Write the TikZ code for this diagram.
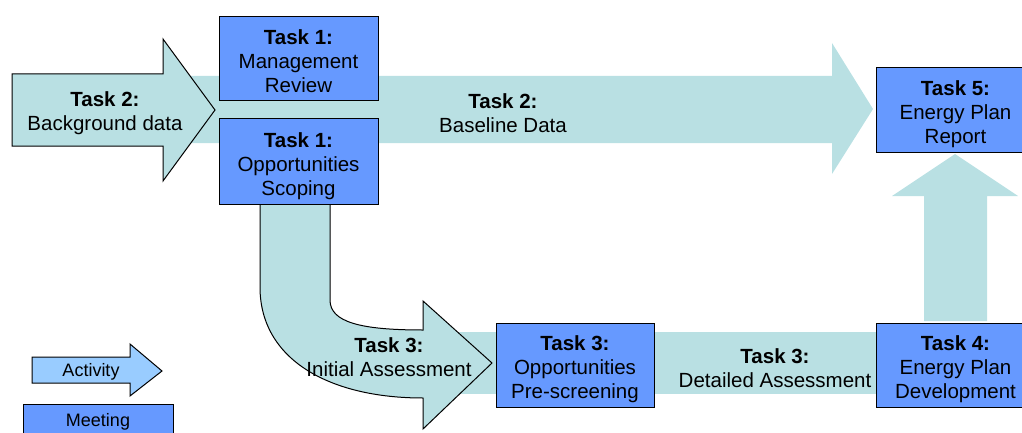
\documentclass[tikz,border=0pt]{standalone}
\usepackage{fontspec}
\setmainfont{Liberation Sans}
\definecolor{band}{RGB}{185,224,227}
\definecolor{boxblue}{RGB}{102,153,255}
\definecolor{legblue}{RGB}{153,204,255}
\newcommand\tasktext[3]{\rule{0pt}{24pt}\textbf{#1}\\#2\\#3\rule[-5pt]{0pt}{5pt}}
\tikzset{
  taskbox/.style={draw=black, line width=1pt, fill=boxblue, minimum width=159pt, minimum height=84pt, inner sep=0pt, align=center, font=\fontsize{20.5}{24}\selectfont},
  actshape/.style={fill=band, draw=black, line width=1pt, line join=miter},
  actband/.style={fill=band, draw=none},
  actlabel/.style={align=center, inner sep=0pt, font=\fontsize{20.5}{24}\selectfont},
  legtext/.style={inner sep=0pt, font=\fontsize{18}{22}\selectfont}
}
\begin{document}
\begin{tikzpicture}[x=1pt,y=-1pt]
\useasboundingbox (0,0) rectangle (1022,433);
% Baseline data band
\path[actband] (180,76) -- (832,76) -- (832,43) -- (873,109) -- (832,174) -- (832,143) -- (180,143) -- cycle;
% Background data arrow
\path[actshape] (12,74) -- (163,74) -- (163,39) -- (215,110) -- (163,181) -- (163,146) -- (12,146) -- cycle;
% Detailed assessment band
\path[actband] (450,332) -- (900,332) -- (900,394) -- (450,394) -- cycle;
% Initial assessment curved arrow
\path[actshape] (260,198) -- (330,198) -- (330,300) .. controls (330,322) and (360,330) .. (423,330) -- (423,301) -- (492,363) -- (423,429) -- (423,398) .. controls (330,398) and (260,360) .. (260,287) -- cycle;
% Up arrow
\path[actband] (924,321) -- (924,196) -- (892,196) -- (955,154) -- (1018,196) -- (987,196) -- (987,321) -- cycle;
% Boxes
\node[taskbox] (mgmt) at (298.5,59) {\tasktext{Task 1:}{Management}{Review}};
\node[taskbox, minimum height=85pt] (scope) at (298.5,161.5) {\tasktext{Task 1:}{Opportunities}{Scoping}};
\node[taskbox, minimum width=158pt] (prescreen) at (575,365) {\tasktext{Task 3:}{Opportunities}{Pre-screening}};
\node[taskbox] (report) at (955.5,110) {\tasktext{Task 5:}{Energy Plan}{Report}};
\node[taskbox] (develop) at (955.5,365) {\tasktext{Task 4:}{Energy Plan}{Development}};
% Activity labels
\node[actlabel] (bglabel) at (105,113) {\textbf{Task 2:}\\Background data};
\node[actlabel] (baselabel) at (503,113) {\textbf{Task 2:}\\Baseline Data};
\node[actlabel] (initlabel) at (389,357) {\textbf{Task 3:}\\Initial Assessment};
\node[actlabel] (detlabel) at (775,368) {\textbf{Task 3:}\\Detailed Assessment};
% Legend
\path[fill=legblue, draw=black, line width=1pt] (32,357) -- (130,357) -- (130,344) -- (162,371) -- (130,396) -- (130,383) -- (32,383) -- cycle;
\node[legtext] (activity) at (91,372) {Activity};
\node[draw=black, line width=1pt, fill=boxblue, minimum width=150pt, minimum height=36pt, inner sep=0pt, font=\fontsize{18}{22}\selectfont] (meeting) at (98,422) {Meeting};
\end{tikzpicture}
\end{document}
